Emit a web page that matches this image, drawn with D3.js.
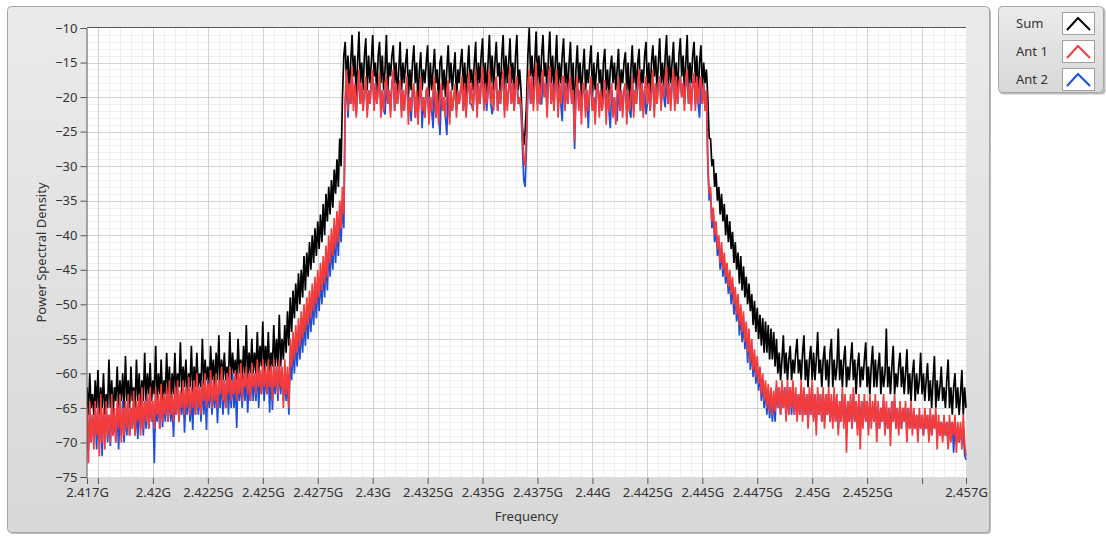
<!DOCTYPE html>
<html><head><meta charset="utf-8">
<script src="https://cdn.jsdelivr.net/npm/d3@7"></script>
<style>
body{margin:0;background:#fff;}
svg{display:block;font-family:"Noto Sans","Open Sans",sans-serif;}
</style>
</head><body>
<svg id="chart" width="1106" height="536"></svg>
<script>
// ---- data (power spectral density, dB) on a uniform grid 2.417 GHz .. 2.457 GHz, step 0.0625 MHz (641 points) ----
const freqStartGHz = 2.417;
const freqStepGHz = 0.0000625;

const sumDb = [
 // lower noise floor
 -62,-66,-60,-65,-63,-66,-61,-65,-59.5,-66, -62,-65,-60,-66,-63,-65,-58,-65,-61,-66,
 -62,-64,-59,-65,-61,-64,-60,-65,-57.5,-64, -61,-65,-59,-64,-62,-65,-58,-64,-60,-65,
 -61,-64,-57,-64,-60,-63,-58.5,-64,-61,-63, -56,-64,-60,-63,-58,-64,-61,-63,-57,-63,
 -59,-64,-60,-63,-57,-63,-60,-62,-55.5,-63, -59,-62,-58,-63,-60,-62,-56,-63,-59,-62,
 -57,-62,-60,-62,-55,-62,-58,-61,-59,-62, -56,-61,-58,-62,-57,-61,-54.5,-62,-58,-61,
 -57,-61,-59,-61,-54,-61,-57,-60,-58,-61, -55,-60,-58,-61,-56,-60,-53,-61,-57,-60,
 -55,-60,-57,-60,-54,-60,-56,-59,-52.5,-60, -56,-59,-54,-60,-57,-59,-53,-59,-55,-59,
 -51.5,-59,-55,-58,
 // lower skirt
 -53,-57,-51,-56,-49,-54,-48,-52,-47,-51, -45.5,-50,-45,-49,-43,-48,-42.5,-46,-41,-45,
 -40,-44,-39,-43,-38,-42,-37,-41,-35.5,-40, -34,-38,-33,-37,-32,-36,-30.5,-34,-29,-33,
 -26,-30,-20,-14,
 // in-band, lower half
 -12,-18,-14,-19,-15, -11,-17,-14,-20,-15, -10.5,-18,-15,-19,-14, -11.5,-19,-14,-18,-15,
 -11,-17,-15,-20,-14, -12,-18,-14,-19,-16, -11,-19,-15,-17,-14, -12.5,-18,-15,-20,-16,
 -12,-19,-15,-18,-15, -13,-20,-16,-19,-15, -12.5,-18,-15,-21,-16, -13.5,-19,-16,-18,-15,
 -12.5,-20,-15,-19,-16, -13,-18,-16,-21,-15, -14,-19,-16,-20,-16, -12.5,-18,-15,-19,-16,
 -13.5,-21,-16,-18,-15, -13,-19,-15,-20,-16, -12.5,-18,-16,-19,-15, -12,-20,-15,-18,-14,
 -11.5,-19,-15,-20,-15, -11,-18,-14,-19,-15, -12,-17,-15,-20,-14, -11,-19,-14,-18,-15,
 -11.5,-18,-15,-19,-14, -11,-19,-16,
 // centre null
 -19,-24,-27,-25,-21,-14,
 // in-band, upper half
 -10,-17,-14,-19,-15, -10.5,-18,-14,-19,-14, -11,-17,-15,-20,-14, -10.5,-18,-14,-19,-15,
 -11,-19,-15,-18,-14, -11.5,-18,-15,-20,-15, -12,-19,-15,-24,-16, -12.5,-18,-15,-20,-16,
 -13,-19,-16,-18,-15, -12.5,-20,-15,-19,-16, -13.5,-18,-16,-21,-15, -13,-19,-16,-20,-16,
 -14,-18,-15,-19,-16, -13,-20,-16,-18,-15, -13.5,-19,-15,-21,-16, -12.5,-18,-15,-19,-15,
 -13,-20,-16,-18,-14, -12,-19,-15,-20,-15, -12.5,-17,-14,-19,-15, -11.5,-18,-15,-19,-14,
 -11,-19,-14,-18,-15, -12,-18,-15,-20,-14, -11.5,-17,-14,-19,-15, -11,-19,-15,-18,-14,
 -12,-18,-14,-20,-15, -12.5,-19,-15,-18,-16,
 // upper skirt
 -20,-26,-26,-30,-29,-33,-31,-35,-33,-37, -34,-38,-35.5,-40,-37,-41,-38,-42,-39.5,-44,
 -41,-45,-42.5,-47,-43,-48,-44.5,-49,-46,-50, -47,-51,-48.5,-53,-49.5,-54,-50.5,-55,-51.5,-56,
 -52,-57,-52.5,-57,-53,-58,-53.5,-58,-54,-59,
 // upper noise floor
 -55,-60,-57,-61,-58, -54.5,-60,-57,-61,-58, -56,-61,-58,-60,-57, -55,-60,-58,-61,-57,
 -54.5,-61,-58,-62,-58, -56,-61,-57,-61,-58, -54,-60,-58,-62,-58, -56,-61,-58,-62,-57,
 -55,-62,-58,-61,-59, -53.5,-61,-58,-62,-58, -56,-62,-59,-61,-58, -55.5,-61,-58,-63,-59,
 -57,-62,-59,-61,-58, -55.5,-62,-59,-63,-59, -56,-62,-58,-62,-59, -57,-63,-59,-62,-60,
 -53.5,-62,-59,-63,-59, -56,-63,-60,-62,-59, -57,-62,-59,-63,-60, -56.5,-63,-60,-64,-60,
 -58,-64,-60,-63,-61, -57,-63,-60,-64,-61, -58.5,-64,-61,-65,-61, -57.5,-65,-61,-64,-62,
 -59,-64,-62,-65,-61, -58,-65,-62,-66,-62, -60,-65,-62,-66,-63, -59.5,-66,-62,-65
];

const ant1Db = [
 // lower noise floor
 -65,-73,-64,-70,-66,-71,-64,-69,-65,-72, -63,-70,-65,-71,-64,-69,-66,-70,-63,-69,
 -65,-70,-64,-68,-63,-70,-65,-69,-64,-68, -63,-69,-65,-68,-62.5,-69,-64,-67,-63,-69,
 -62,-68,-64,-67,-63,-68,-62,-67,-64,-68, -62,-66,-63,-68,-61.5,-67,-63,-66,-62,-67,
 -61,-66,-63,-67,-62,-66,-61,-67,-62.5,-65, -61,-66,-62,-65,-60.5,-66,-62,-65,-61,-66,
 -60,-65,-62,-66,-61,-64,-60,-65,-61.5,-64, -59.5,-65,-61,-64,-60,-65,-61,-63,-59,-64,
 -61,-65,-60,-63,-59,-64,-61,-63,-59.5,-64, -60,-63,-58.5,-64,-60,-62,-59,-63,-60,-64,
 -58.5,-62,-60,-63,-58,-62,-59.5,-63,-58,-62, -59,-63,-58,-62,-59,-64,-58,-62,-59,-63,
 -58,-62,-59,-65,
 // lower skirt
 -58,-63,-59,-65,-55,-59,-54,-58,-53,-57, -52,-56,-51,-55,-50,-54,-49,-53,-48,-52,
 -47,-51,-46,-50,-45,-49,-44,-48,-43,-47, -41.5,-46,-40,-44,-39,-43,-37.5,-42,-36.5,-41,
 -35,-39,-33,-37,
 // in-band, lower half
 -20,-16,-22,-18,-21, -15.5,-22,-18,-23,-19, -16,-21,-18,-22,-19, -17,-23,-19,-21,-18,
 -16,-22,-18,-21,-19, -16.5,-23,-19,-22,-18, -17,-21,-19,-23,-18, -16,-22,-18,-21,-19,
 -17.5,-23,-19,-22,-19, -17,-24,-20,-22,-19, -18,-23,-19,-24,-20, -17,-22,-20,-23,-19,
 -18.5,-24,-20,-22,-19, -17,-23,-19,-24,-20, -18,-22,-20,-23,-19, -17.5,-24,-19,-22,-20,
 -18,-23,-19,-21,-19, -17,-22,-18,-23,-19, -16.5,-21,-18,-22,-19, -16,-23,-18,-21,-18,
 -15.5,-22,-18,-21,-19, -16,-21,-18,-22,-18, -17,-22,-19,-21,-18, -16,-23,-18,-22,-19,
 -15.5,-21,-18,-22,-18, -17,-21,-20,
 // centre null
 -21,-25,-29,-30,-25,-18,
 // in-band, upper half
 -16,-21,-17,-22,-18, -15,-22,-18,-21,-17, -16,-20,-18,-23,-17, -15.5,-21,-18,-22,-18,
 -16,-23,-18,-21,-17, -17,-22,-18,-21,-18, -17,-21,-19,-26.5,-19, -17,-22,-19,-24,-18,
 -18,-23,-19,-22,-19, -17,-22,-20,-24,-19, -18,-23,-19,-22,-20, -17.5,-24,-19,-22,-19,
 -18,-23,-20,-24,-19, -17,-22,-19,-23,-19, -18,-24,-19,-22,-20, -17,-23,-19,-21,-18,
 -16,-22,-18,-23,-19, -17,-21,-18,-22,-19, -16,-23,-18,-21,-18, -17,-22,-18,-20,-17,
 -15.5,-21,-18,-22,-18, -16,-22,-17,-21,-18, -17,-20,-18,-22,-17, -16,-21,-18,-22,-18,
 -16.5,-22,-17,-21,-18, -17,-21,-18,-22,-19,
 // upper skirt
 -29,-34,-33,-38,-36,-40,-38,-42,-40,-44, -41,-45,-42.5,-46,-44,-47.5,-45,-48.5,-46,-50,
 -47.5,-51.5,-48.5,-53,-50,-54,-51,-55.5,-52.5,-57, -53.5,-58.5,-55,-59.5,-56.5,-60.5,-57.5,-61.5,-59,-63,
 -60,-64,-61,-65,-61.5,-65.5,-62,-66,-62.5,-65.5,
 // upper noise floor
 -61,-65,-62,-66,-61,-65,-62,-67,-61,-66, -62,-65,-61,-66,-62,-67,-63,-66,-61,-67,
 -62,-66,-63,-68,-62,-66,-61,-67,-63,-69, -62,-66,-63,-67,-62,-68,-63,-66,-62,-67,
 -63,-68,-62,-67,-63,-69,-64,-67,-62,-68, -63,-71.5,-64,-67,-63,-68,-62,-67,-64,-69,
 -63,-71,-64,-68,-63,-67,-64,-69,-63,-68, -64,-67,-63,-70,-64,-68,-65,-67,-63,-69,
 -64,-68,-65,-70.5,-64,-67,-63,-68,-65,-69, -64,-68,-65,-67,-64,-70,-65,-68,-64,-69,
 -65,-68,-66,-70,-65,-68,-66,-69,-65,-68, -66,-70,-65,-69,-66,-68,-65,-71,-66,-69,
 -67,-70,-66,-69,-67,-71,-66,-70,-67,-69, -66,-71.5,-67,-70,-67,-71,-66,-70,-72
];

const ant2Db = [
 // lower noise floor
 -66,-71,-65,-70,-66,-69,-65,-71,-66,-70, -65,-72,-66,-69,-65,-70,-66,-70.5,-65,-69,
 -66,-70,-65,-71,-66,-69,-64,-70,-65,-69, -64,-69,-65,-68,-64,-69,-65,-69.5,-64,-68,
 -64,-69,-64,-68,-63,-68,-64,-67,-65,-73, -63,-67,-64,-68,-63,-67.8,-64,-67,-63,-67,
 -63,-67,-64,-69.2,-63,-66,-62,-67,-63,-66, -62,-68.6,-63,-66,-62,-67,-63,-68.2,-62,-66,
 -61,-66,-62,-67,-61,-66,-62,-68.2,-61,-65, -61,-66,-62,-65,-61,-67.2,-62,-65,-60,-66,
 -61,-65,-60,-66,-61,-65,-60,-65,-61,-67.9, -60,-64,-61,-65,-60,-64,-60,-65.7,-61,-64,
 -59,-64,-60,-64,-59,-65,-60,-63,-59,-64, -60,-63,-59,-65.7,-59,-65.3,-60,-63,-59,-64,
 -59,-63,-60,-64,
 // lower skirt
 -60,-64,-61,-66,-57,-61,-56,-60,-55,-59, -54,-58,-53,-57,-52,-56,-51,-55,-50,-54,
 -49,-53,-48,-52,-47,-51,-46,-50,-45,-49, -43.5,-48,-42,-46,-41,-45,-39.5,-44,-38.5,-43,
 -37,-41,-35,-39,
 // in-band, lower half
 -21,-18,-23,-19,-21, -17,-21,-19,-22.5,-19, -17,-21,-18,-22,-19, -18,-22,-19,-21,-18,
 -17,-21,-18,-21,-19, -17,-22,-19,-22,-22.5, -18,-21,-19,-22,-18, -17,-22,-18,-21,-19,
 -18,-22,-19,-22,-19, -18,-22,-20,-23.5,-19, -19,-23,-20,-22,-20, -18,-24.5,-20,-23,-19,
 -19,-23,-20,-22,-24.5, -18,-23,-20,-22,-25.5, -19,-22,-20,-23,-25.5, -18,-23,-20,-22,-20,
 -19,-22,-20,-21,-19, -18,-22,-19,-22,-19, -17,-21,-21,-22,-19, -17,-22,-18,-21,-18,
 -16.5,-21,-19,-22,-19, -17,-21,-22.5,-21,-18, -17.5,-22,-19,-21,-18, -17,-22,-18,-21,-19,
 -16.5,-21,-18,-22,-18, -18,-21,-20,
 // centre null
 -22,-27,-32,-33,-27,-19,
 // in-band, upper half
 -17,-21,-18,-21,-18, -16,-21,-18,-21,-21, -17,-20,-18,-21.5,-17, -16.5,-21,-18,-21,-18,
 -17,-22,-18,-21,-23.5, -17,-21,-18,-21,-18, -18,-21,-19,-27.5,-19, -18,-21,-19,-22,-19,
 -18,-22,-19,-24.5,-19, -18,-22,-20,-22,-19, -18,-22,-19,-22,-20, -18,-22,-19,-22,-24.5,
 -19,-22,-20,-22,-23.5, -18,-22,-19,-22,-19, -18,-22,-19,-22,-23, -17,-22,-19,-21,-18,
 -17,-22,-18,-22,-19, -22.5,-21,-18,-22,-19, -17,-22,-18,-21,-18, -17,-21,-18,-20,-21.5,
 -16.5,-21,-18,-21,-18, -17,-21,-18,-21,-18, -17,-20,-18,-21,-18, -17,-21,-18,-21,-18,
 -17,-21,-18,-21,-23, -17.5,-21,-18,-21,-19,
 // upper skirt
 -30,-35,-34,-39,-37,-41,-39,-43,-41,-45, -42,-46,-43.5,-47,-45,-48.5,-46,-50,-47,-51.5,
 -48.5,-52.5,-49.5,-54.5,-51,-55.5,-52.5,-56.5,-53.5,-58.5, -54.5,-59.5,-56,-60.5,-57.5,-61.5,-58.5,-62.5,-59.5,-64,
 -61,-65,-62,-66,-62.5,-66.5,-63,-67,-63.5,-67,
 // upper noise floor
 -62,-65,-62,-66,-62,-65,-62,-66,-62,-66, -62,-66,-62,-66,-63,-66,-63,-66,-62,-66,
 -63,-66,-63,-67,-63,-66,-62,-66.5,-63,-67, -63,-66,-63,-67,-63,-67,-63,-66,-63,-67,
 -64,-67,-63,-67,-64,-68,-64,-67,-63,-67, -64,-68,-64,-67,-64,-68,-63,-67,-64,-68,
 -64,-68,-64,-67,-64,-67,-64,-68,-64,-67, -65,-67,-64,-68,-65,-68,-65,-67,-64,-68.5,
 -65,-68,-65,-68,-64,-67,-64,-68,-65,-68, -65,-68,-65,-67,-65,-69,-65,-68,-65,-68,
 -66,-68,-66,-69,-66,-68,-66,-69,-66,-68, -66,-69,-66,-69,-66,-68,-66,-69,-67,-69,
 -67,-69,-67,-69,-67,-70.5,-67,-69,-67,-71.5, -67,-70,-68,-70,-68,-70,-68,-71.8,-72.5
];

const seriesNames = ["Sum", "Ant 1", "Ant 2"];
const seriesColors = ["#000000", "#f43c3c", "#1c4fd8"];

const yTickValues = [-10,-15,-20,-25,-30,-35,-40,-45,-50,-55,-60,-65,-70,-75];
const xTickValues = [2.417,2.4175,2.42,2.4225,2.425,2.4275,2.43,2.4325,2.435,2.4375,2.44,2.4425,2.445,2.4475,2.45,2.4525,2.455,2.457];
const xTickLabels = ["2.417G","","2.42G","2.4225G","2.425G","2.4275G","2.43G","2.4325G","2.435G","2.4375G","2.44G","2.4425G","2.445G","2.4475G","2.45G","2.4525G","","2.457G"];

// ---- drawing ----
const svg = d3.select("#chart");
const plot = {left: 87, right: 966, top: 28, bottom: 477};

const x = d3.scaleLinear().domain([2.417, 2.457]).range([plot.left, plot.right]);
const y = d3.scaleLinear().domain([-75, -10]).range([plot.bottom, plot.top]);

const defs = svg.append("defs");
const grad = defs.append("linearGradient").attr("id","panelGrad").attr("x1",0).attr("y1",0).attr("x2",0).attr("y2",1);
grad.append("stop").attr("offset","0%").attr("stop-color","#ebebeb");
grad.append("stop").attr("offset","100%").attr("stop-color","#d8d8d8");
defs.append("clipPath").attr("id","plotClip").append("rect")
  .attr("x",plot.left).attr("y",plot.top-1).attr("width",plot.right-plot.left+1).attr("height",plot.bottom-plot.top+2);

// panel frame
svg.append("rect").attr("x",9).attr("y",8).attr("width",982).attr("height",526).attr("rx",4).attr("fill","#bdbdbd");
svg.append("rect").attr("x",7.5).attr("y",6.5).attr("width",982).attr("height",526).attr("rx",4)
  .attr("fill","url(#panelGrad)").attr("stroke","#a4a4a4");

// plot background
svg.append("rect").attr("x",plot.left).attr("y",plot.top).attr("width",plot.right-plot.left).attr("height",plot.bottom-plot.top).attr("fill","#ffffff");

// minor grid
const gMinor = svg.append("g");
gMinor.selectAll("line.hm").data(d3.range(-74,-10,1).filter(v=>v%5!==0)).join("line")
  .attr("x1",plot.left).attr("x2",plot.right).attr("y1",d=>Math.round(y(d))+0.5).attr("y2",d=>Math.round(y(d))+0.5)
  .attr("stroke","#efefef").attr("stroke-width",1);
gMinor.selectAll("line.vm").data(d3.range(0,80).map(k=>2.4175+k*0.0005).filter(v=>v<2.457 && Math.abs((v-2.4175)/0.0025 - Math.round((v-2.4175)/0.0025))>0.01)).join("line")
  .attr("y1",plot.top).attr("y2",plot.bottom).attr("x1",d=>Math.round(x(d))+0.5).attr("x2",d=>Math.round(x(d))+0.5)
  .attr("stroke","#efefef").attr("stroke-width",1);

// major grid
const gMajor = svg.append("g");
gMajor.selectAll("line.h").data(yTickValues.filter(v=>v!==-75 && v!==-10)).join("line")
  .attr("x1",plot.left).attr("x2",plot.right).attr("y1",d=>Math.round(y(d))+0.5).attr("y2",d=>Math.round(y(d))+0.5)
  .attr("stroke","#d2d2d2");
gMajor.selectAll("line.v").data(xTickValues.filter(v=>v!==2.417 && v!==2.457)).join("line")
  .attr("y1",plot.top).attr("y2",plot.bottom).attr("x1",d=>Math.round(x(d))+0.5).attr("x2",d=>Math.round(x(d))+0.5)
  .attr("stroke","#d2d2d2");

// series
const freqOf = i => freqStartGHz + i*freqStepGHz;
const line = d3.line().x((d,i)=>x(freqOf(i))).y(d=>y(d));
const gLines = svg.append("g").attr("clip-path","url(#plotClip)");
const drawOrder = [[sumDb,0],[ant2Db,2],[ant1Db,1]];
drawOrder.forEach(([arr,k])=>{
  gLines.append("path").datum(arr).attr("d",line)
    .attr("fill","none").attr("stroke",seriesColors[k]).attr("stroke-width",1.7).attr("stroke-linejoin","bevel");
});

// plot border (top dark)
svg.append("line").attr("x1",plot.left).attr("x2",plot.right).attr("y1",plot.top-0.5).attr("y2",plot.top-0.5).attr("stroke","#555");

// axes
const yAxis = d3.axisLeft(y).tickValues(yTickValues).tickSize(6).tickPadding(3).tickFormat(d3.format("d"));
const gy = svg.append("g").attr("transform",`translate(${plot.left-0.5},0)`).call(yAxis);
gy.select(".domain").attr("stroke","#555");
gy.selectAll(".tick line").attr("stroke","#555");
gy.selectAll("text").attr("font-size",13).attr("fill","#333").attr("font-family","Noto Sans, sans-serif");

const xAxis = d3.axisBottom(x).tickValues(xTickValues).tickSize(6).tickPadding(4).tickFormat((d,i)=>xTickLabels[i]).tickSizeOuter(0);
const gx = svg.append("g").attr("transform",`translate(0,${plot.bottom+1})`).call(xAxis);
gx.select(".domain").remove();
gx.selectAll(".tick line").attr("stroke","#555");
gx.selectAll("text").attr("font-size",13).attr("fill","#333").attr("font-family","Noto Sans, sans-serif");

// axis titles
svg.append("text").attr("x",(plot.left+plot.right)/2).attr("y",521).attr("text-anchor","middle")
  .attr("font-size",13).attr("fill","#333").text("Frequency");
svg.append("text").attr("transform",`translate(46,${(plot.top+plot.bottom)/2}) rotate(-90)`).attr("text-anchor","middle")
  .attr("font-size",13).attr("fill","#333").text("Power Spectral Density");

// legend
const lg = svg.append("g");
lg.append("rect").attr("x",999.5).attr("y",7.5).attr("width",106).attr("height",87).attr("rx",4).attr("fill","#bdbdbd");
lg.append("rect").attr("x",998.5).attr("y",6.5).attr("width",105).attr("height",86).attr("rx",4)
  .attr("fill","url(#panelGrad)").attr("stroke","#a4a4a4");
seriesNames.forEach((name,k)=>{
  const cy = 23 + k*28;
  lg.append("text").attr("x",1016).attr("y",cy+4.5).attr("font-size",13).attr("fill","#333").text(name);
  lg.append("rect").attr("x",1062.5).attr("y",cy-10.5).attr("width",32).attr("height",22).attr("fill","#fff").attr("stroke","#a0a0a0");
  lg.append("path").attr("d",`M${1067},${cy+7} L${1078},${cy-5} L${1090},${cy+7}`)
    .attr("fill","none").attr("stroke",seriesColors[k]).attr("stroke-width",2);
});
</script>
</body></html>
